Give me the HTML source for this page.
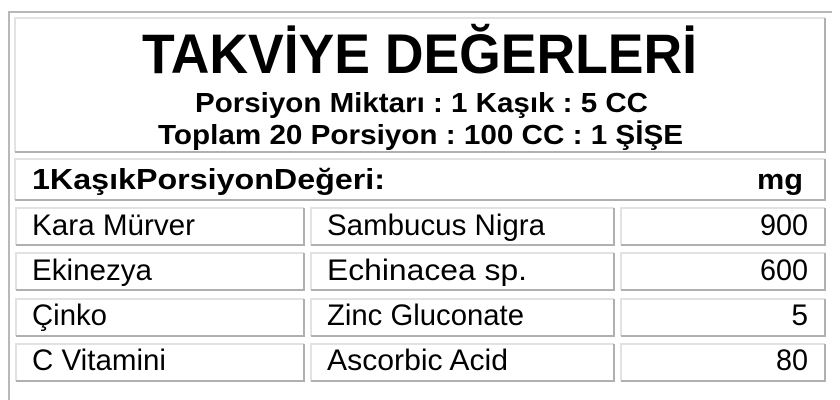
<!DOCTYPE html>
<html><head><meta charset="utf-8"><style>
body{margin:0;background:#fff;}
svg{display:block}
text{font-family:"Liberation Sans",Arial,sans-serif;fill:#000}
</style></head><body>
<svg width="840" height="400" xmlns="http://www.w3.org/2000/svg">
<rect width="840" height="400" fill="#fff"/>
<path d="M9 400 V12 H832" fill="none" stroke="#b8b8b8" stroke-width="2"/>
<g fill="none">
<path d="M15 152 V18 H825" stroke="#e2e2e2" stroke-width="2"/>
<path d="M15 152 H825 V18" stroke="#b0b0b0" stroke-width="2"/>
<path d="M15 200 V159 H825" stroke="#e2e2e2" stroke-width="2"/>
<path d="M15 200 H825 V159" stroke="#b0b0b0" stroke-width="2"/>
</g>
<g fill="none" stroke-width="2">
<path d="M16 245 V208 H304" stroke="#e2e2e2"/><path d="M16 245 H304 V208" stroke="#b0b0b0"/>
<path d="M311 245 V208 H614" stroke="#e2e2e2"/><path d="M311 245 H614 V208" stroke="#b0b0b0"/>
<path d="M621 245 V208 H825" stroke="#e2e2e2"/><path d="M621 245 H825 V208" stroke="#b0b0b0"/>
<path d="M16 290 V253 H304" stroke="#e2e2e2"/><path d="M16 290 H304 V253" stroke="#b0b0b0"/>
<path d="M311 290 V253 H614" stroke="#e2e2e2"/><path d="M311 290 H614 V253" stroke="#b0b0b0"/>
<path d="M621 290 V253 H825" stroke="#e2e2e2"/><path d="M621 290 H825 V253" stroke="#b0b0b0"/>
<path d="M16 336 V299 H304" stroke="#e2e2e2"/><path d="M16 336 H304 V299" stroke="#b0b0b0"/>
<path d="M311 336 V299 H614" stroke="#e2e2e2"/><path d="M311 336 H614 V299" stroke="#b0b0b0"/>
<path d="M621 336 V299 H825" stroke="#e2e2e2"/><path d="M621 336 H825 V299" stroke="#b0b0b0"/>
<path d="M16 381 V344 H304" stroke="#e2e2e2"/><path d="M16 381 H304 V344" stroke="#b0b0b0"/>
<path d="M311 381 V344 H614" stroke="#e2e2e2"/><path d="M311 381 H614 V344" stroke="#b0b0b0"/>
<path d="M621 381 V344 H825" stroke="#e2e2e2"/><path d="M621 381 H825 V344" stroke="#b0b0b0"/>
</g>
<text x="142" y="73" font-size="56" font-weight="bold" textLength="555" lengthAdjust="spacingAndGlyphs">TAKVİYE DEĞERLERİ</text>
<text x="195" y="112" font-size="28" font-weight="bold" textLength="453" lengthAdjust="spacingAndGlyphs">Porsiyon Miktarı : 1 Kaşık : 5 CC</text>
<text x="158" y="144" font-size="28" font-weight="bold" textLength="525" lengthAdjust="spacingAndGlyphs">Toplam 20 Porsiyon : 100 CC : 1 ŞİŞE</text>
<text x="32" y="189" font-size="29" font-weight="bold" textLength="353" lengthAdjust="spacingAndGlyphs">1KaşıkPorsiyonDeğeri:</text>
<text x="757" y="189" font-size="29" font-weight="bold" textLength="46" lengthAdjust="spacingAndGlyphs">mg</text>
<g font-size="30">
<text x="32" y="235" textLength="163" lengthAdjust="spacingAndGlyphs">Kara Mürver</text><text x="327" y="235" textLength="218" lengthAdjust="spacingAndGlyphs">Sambucus Nigra</text><text x="760" y="235" textLength="48" lengthAdjust="spacingAndGlyphs">900</text>
<text x="32" y="280" textLength="120" lengthAdjust="spacingAndGlyphs">Ekinezya</text><text x="327" y="280" textLength="200" lengthAdjust="spacingAndGlyphs">Echinacea sp.</text><text x="760" y="280" textLength="48" lengthAdjust="spacingAndGlyphs">600</text>
<text x="32" y="325" textLength="75" lengthAdjust="spacingAndGlyphs">Çinko</text><text x="327" y="325" textLength="197" lengthAdjust="spacingAndGlyphs">Zinc Gluconate</text><text x="808" y="325" text-anchor="end">5</text>
<text x="32" y="370" textLength="134" lengthAdjust="spacingAndGlyphs">C Vitamini</text><text x="327" y="370" textLength="181" lengthAdjust="spacingAndGlyphs">Ascorbic Acid</text><text x="776" y="370" textLength="32" lengthAdjust="spacingAndGlyphs">80</text>
</g>
</svg>
</body></html>
